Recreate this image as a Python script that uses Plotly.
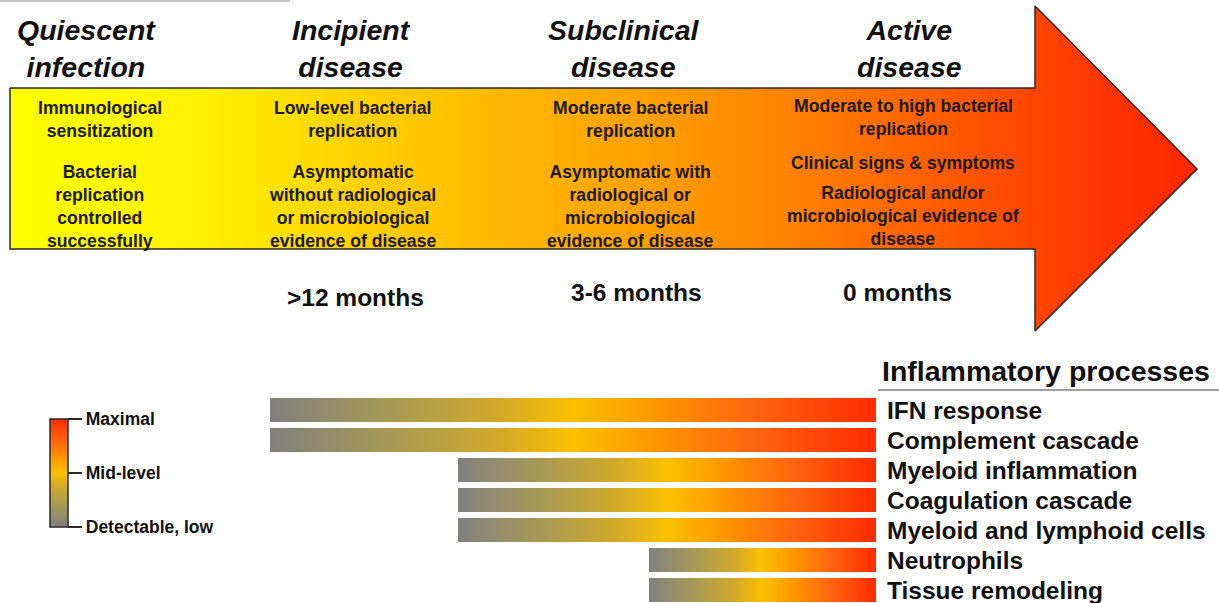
import plotly.graph_objects as go

# ---------------- data ----------------
stages = ["Quiescent<br>infection", "Incipient<br>disease", "Subclinical<br>disease", "Active<br>disease"]
stage_features = [
    ["Immunological<br>sensitization", "Bacterial<br>replication<br>controlled<br>successfully"],
    ["Low-level bacterial<br>replication", "Asymptomatic<br>without radiological<br>or microbiological<br>evidence of disease"],
    ["Moderate bacterial<br>replication", "Asymptomatic with<br>radiological or<br>microbiological<br>evidence of disease"],
    ["Moderate to high bacterial<br>replication", "Clinical signs & symptoms",
     "Radiological and/or<br>microbiological evidence of<br>disease"],
]
time_to_active = ["", ">12 months", "3-6 months", "0 months"]

processes = ["IFN response", "Complement cascade", "Myeloid inflammation", "Coagulation cascade",
             "Myeloid and lymphoid cells", "Neutrophils", "Tissue remodeling"]
process_onset = [270, 270, 458, 458, 458, 649, 649]   # timeline position where signal becomes detectable
process_peak = [876, 876, 876, 876, 876, 876, 876]    # timeline position of maximal signal

scale_ticks = [0, 0.5, 1]
scale_labels = ["Detectable, low", "Mid-level", "Maximal"]

# ---------------- layout constants ----------------
W, H = 1219, 603
FONT = "Liberation Sans, Arial, sans-serif"
stage_x = [86, 351, 624, 909]
feature_x = [100, 352, 630, 903]
feature_y = [[119, 206], [119, 206], [119, 206], [117.5, 163, 216]]
months_x = [86, 355, 636, 897]
months_y = [295, 297, 292, 292]
row_y0, row_pitch, bar_h = 410, 30, 24
label_x = 885

level_scale = [[0.0, "#808080"], [0.2, "#a89a55"], [0.38, "#d2aa2a"], [0.5, "#fbc100"],
               [0.62, "#ff9c00"], [0.8, "#ff6410"], [1.0, "#ff2c00"]]
arrow_scale = [[0.0, "#ffff00"], [0.16, "#fff200"], [0.29, "#ffd200"], [0.52, "#ffa300"],
               [0.66, "#ff8200"], [0.79, "#ff5a00"], [0.92, "#ff3500"], [1.0, "#ff2800"]]

fig = go.Figure()

# big gradient arrow
ax = [10, 1035, 1035, 1197, 1035, 1035, 10, 10]
ay = [88, 88, 6, 169, 331, 249, 249, 88]
fig.add_trace(go.Scatter(
    x=ax, y=ay, mode="lines", fill="toself",
    fillgradient=dict(type="horizontal", colorscale=arrow_scale),
    line=dict(color="#2a2a2a", width=1.5), hoverinfo="skip", showlegend=False))

# process bars
for i, (name, s, e) in enumerate(zip(processes, process_onset, process_peak)):
    yc = row_y0 + i * row_pitch
    y0, y1 = yc - bar_h / 2, yc + bar_h / 2
    fig.add_trace(go.Scatter(
        x=[s, e, e, s, s], y=[y0, y0, y1, y1, y0], mode="lines", fill="toself",
        fillgradient=dict(type="horizontal", colorscale=level_scale),
        line=dict(width=0), hoverinfo="skip", showlegend=False, name=name))
    fig.add_annotation(x=label_x, y=yc, text=name, showarrow=False, xanchor="left", yanchor="middle",
                       font=dict(family=FONT, size=24.5, color="#111", weight="bold"))

# colour scale legend
fig.add_trace(go.Scatter(
    x=[None], y=[None], mode="markers",
    marker=dict(color=[0.5], coloraxis="coloraxis"), hoverinfo="skip", showlegend=False))

# stage headings, features, timing
for k in range(4):
    fig.add_annotation(x=stage_x[k], y=48, text=stages[k], showarrow=False, yanchor="middle",
                       font=dict(family=FONT, size=28.5, color="#111", weight="bold", style="italic"))
    for txt, yy in zip(stage_features[k], feature_y[k]):
        fig.add_annotation(x=feature_x[k], y=yy, text=txt, showarrow=False, yanchor="middle",
                           font=dict(family=FONT, size=17.6, color="#1a1a1a", weight="bold"))
    if time_to_active[k]:
        fig.add_annotation(x=months_x[k], y=months_y[k], text=time_to_active[k], showarrow=False,
                           yanchor="middle", font=dict(family=FONT, size=24.5, color="#111", weight="bold"))

fig.add_annotation(x=880, y=371, text="Inflammatory processes", showarrow=False, xanchor="left",
                   yanchor="middle", font=dict(family=FONT, size=28.5, color="#111", weight="bold"))
fig.add_shape(type="line", x0=878, x1=1219, y0=390, y1=390, line=dict(color="#808080", width=1.5))
fig.add_shape(type="line", x0=0, x1=290, y0=1, y1=1, line=dict(color="#b0b0b0", width=1.5))

fig.update_layout(
    width=W, height=H, margin=dict(l=0, r=0, t=0, b=0, autoexpand=False),
    paper_bgcolor="white", plot_bgcolor="white",
    xaxis=dict(range=[0, W], visible=False, fixedrange=True),
    yaxis=dict(range=[H, 0], visible=False, fixedrange=True),
    coloraxis=dict(
        colorscale=level_scale, cmin=0, cmax=1,
        colorbar=dict(
            xref="container", yref="container", x=50 / W, xanchor="left",
            y=1 - 473 / H, yanchor="middle", thickness=18, thicknessmode="pixels",
            len=108, lenmode="pixels", xpad=0, ypad=0,
            outlinewidth=1.5, outlinecolor="#2a2a2a",
            tickmode="array", tickvals=scale_ticks, ticktext=scale_labels,
            ticks="outside", ticklen=14, tickwidth=1.5, tickcolor="#2a2a2a",
            tickfont=dict(family=FONT, size=17.5, color="#111", weight="bold"))),
    showlegend=False,
)

fig.write_html("out.html", config={"displayModeBar": False},
               post_script="document.body.style.margin='0';document.body.style.overflow='hidden';")
